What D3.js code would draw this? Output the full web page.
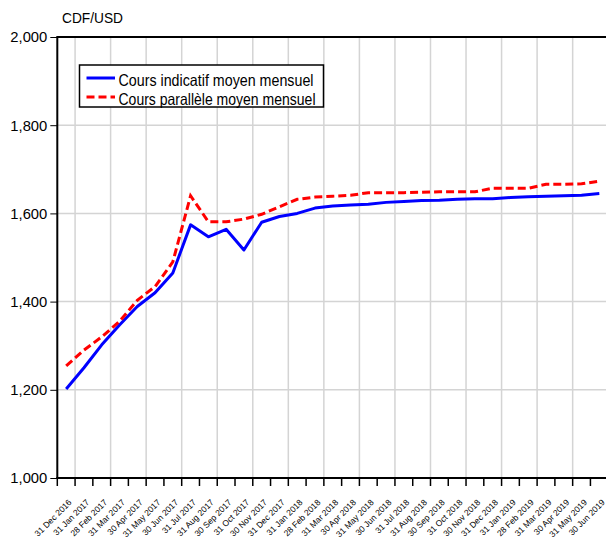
<!DOCTYPE html>
<html><head><meta charset="utf-8">
<script src="https://cdn.jsdelivr.net/npm/d3@7"></script>
<style>body{margin:0;background:#fff;}svg{display:block;}</style>
</head><body><svg id="c" width="606" height="539"></svg>
<script>
const dates = ["31 Dec 2016","31 Jan 2017","28 Feb 2017","31 Mar 2017","30 Apr 2017","31 May 2017","30 Jun 2017","31 Jul 2017","31 Aug 2017","30 Sep 2017","31 Oct 2017","30 Nov 2017","31 Dec 2017","31 Jan 2018","28 Feb 2018","31 Mar 2018","30 Apr 2018","31 May 2018","30 Jun 2018","31 Jul 2018","31 Aug 2018","30 Sep 2018","31 Oct 2018","30 Nov 2018","31 Dec 2018","31 Jan 2019","28 Feb 2019","31 Mar 2019","30 Apr 2019","31 May 2019","30 Jun 2019"];
const indicatif = [1202,1250,1302,1347,1389,1420,1465,1574,1547,1564,1517,1580,1593,1600,1612,1617,1619,1621,1625,1627,1629,1630,1632,1633,1633,1636,1638,1639,1640,1641,1645];
const parallele = [1254,1290,1320,1355,1403,1434,1490,1640,1581,1581,1587,1598,1615,1632,1637,1639,1641,1647,1647,1647,1648,1649,1649,1649,1657,1657,1657,1666,1666,1667,1673];
const yTicks = [1000,1200,1400,1600,1800,2000];
const seriesNames = ["Cours indicatif moyen mensuel","Cours parallèle moyen mensuel"];
const unitLabel = "CDF/USD";

const svg = d3.select("#c");
const L = 57.3, R = 608.2, T = 37, B = 478;
const x = d3.scaleBand().domain(dates).range([L, R]).padding(0);
const bw = x.bandwidth();
const cx = d => x(d) + bw / 2;
const y = d3.scaleLinear().domain([1000, 2000]).range([B, T]);
const font = "'Liberation Sans', Arial, sans-serif";

// gridlines
const g = svg.append("g");
const bounds = d3.range(dates.length + 1).map(i => L + i * bw);
g.selectAll("line.vg").data(bounds.filter((b, i) => i % 2 === 1)).enter().append("line")
  .attr("x1", d => d).attr("x2", d => d).attr("y1", T).attr("y2", B)
  .attr("stroke", "#d4d4d4").attr("stroke-width", 1.5);
g.selectAll("line.hg").data(yTicks.filter(v => v > 1000 && v < 2000)).enter().append("line")
  .attr("x1", L).attr("x2", R).attr("y1", d => y(d)).attr("y2", d => y(d))
  .attr("stroke", "#d4d4d4").attr("stroke-width", 1.5);

// lines
const line = d3.line().x((d, i) => cx(dates[i])).y(d => y(d));
svg.append("path").datum(indicatif).attr("d", line).attr("fill", "none")
  .attr("stroke", "#0000ff").attr("stroke-width", 3).attr("stroke-linejoin", "round");
svg.append("path").datum(parallele).attr("d", line).attr("fill", "none")
  .attr("stroke", "#ff0000").attr("stroke-width", 3).attr("stroke-dasharray", "8,4");

// axes frame
svg.append("line").attr("x1", L).attr("x2", R).attr("y1", T).attr("y2", T).attr("stroke", "#000").attr("stroke-width", 2);
svg.append("line").attr("x1", L).attr("x2", L).attr("y1", T - 1).attr("y2", B + 1).attr("stroke", "#000").attr("stroke-width", 2);
svg.append("line").attr("x1", L - 1).attr("x2", R).attr("y1", B).attr("y2", B).attr("stroke", "#000").attr("stroke-width", 2);

// y axis
const ya = svg.append("g").attr("transform", `translate(${L},0)`)
  .call(d3.axisLeft(y).tickValues(yTicks).tickFormat(d3.format(",")).tickSize(7).tickPadding(3));
ya.select(".domain").remove();
ya.selectAll(".tick line").attr("stroke", "#000");
ya.selectAll(".tick text").attr("font-family", font).attr("font-size", 15.5).attr("fill", "#000")
  .attr("textLength", function(){ return this.textContent.length * 7.4; }).attr("lengthAdjust", "spacingAndGlyphs");

// x ticks
svg.selectAll("line.xt").data(bounds).enter().append("line")
  .attr("x1", d => d).attr("x2", d => d).attr("y1", B).attr("y2", B + 8)
  .attr("stroke", "#000").attr("stroke-width", 1.5);
svg.selectAll("text.xl").data(dates).enter().append("text")
  .attr("transform", d => `translate(${cx(d) + 6},${B + 25}) rotate(-45)`)
  .attr("text-anchor", "end").attr("font-family", font).attr("font-size", 8.5).attr("fill", "#000")
  .text(d => d);

// unit label
svg.append("text").attr("x", 62).attr("y", 23).attr("font-family", font).attr("font-size", 15)
  .attr("textLength", 61).attr("lengthAdjust", "spacingAndGlyphs").text(unitLabel);

// legend
const lg = svg.append("g");
lg.append("rect").attr("x", 79.5).attr("y", 65).attr("width", 244).attr("height", 42)
  .attr("fill", "#fff").attr("stroke", "#000").attr("stroke-width", 1.5);
const legendItems = [{name: seriesNames[0], color: "#0000ff", dash: null, w: 195},
                     {name: seriesNames[1], color: "#ff0000", dash: "8,4", w: 197}];
legendItems.forEach((it, i) => {
  const yy = 78 + i * 19;
  lg.append("line").attr("x1", 86.5).attr("x2", 115).attr("y1", yy).attr("y2", yy)
    .attr("stroke", it.color).attr("stroke-width", 3).attr("stroke-dasharray", it.dash);
  lg.append("text").attr("x", 118.5).attr("y", yy + 7.5).attr("font-family", font).attr("font-size", 16.5)
    .attr("textLength", it.w).attr("lengthAdjust", "spacingAndGlyphs").text(it.name);
});
</script></body></html>
